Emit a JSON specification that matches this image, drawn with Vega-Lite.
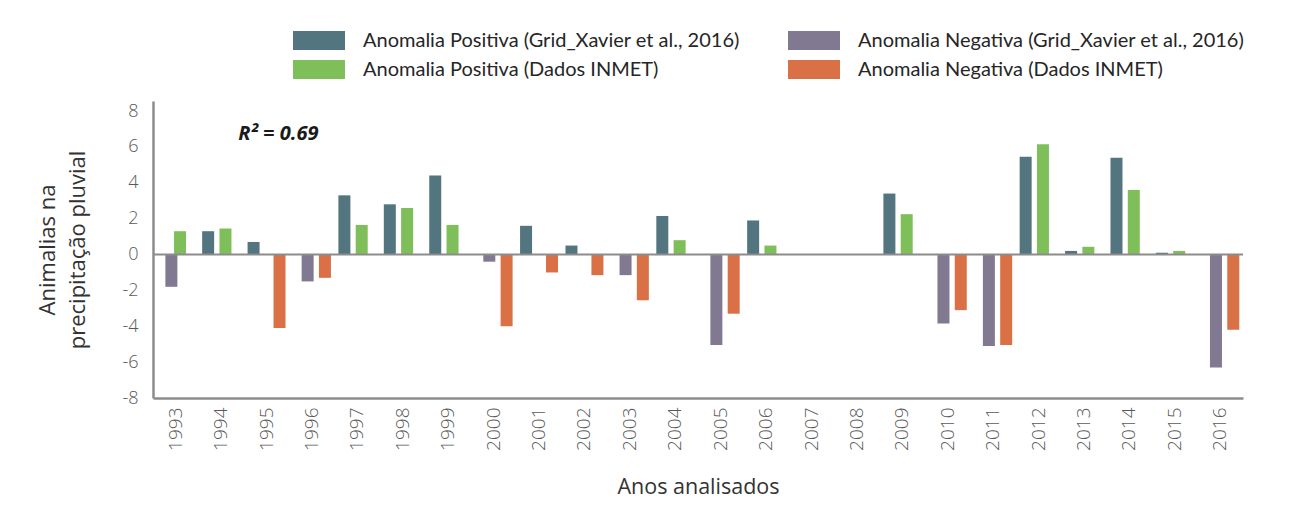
{
  "$schema": "https://vega.github.io/schema/vega-lite/v6.json",
  "autosize": "none",
  "width": 1090,
  "height": 297,
  "padding": {"left": 153, "top": 101, "right": 47, "bottom": 117},
  "background": "white",
  "config": {
    "view": {"stroke": null},
    "font": "Open Sans"
  },
  "data": {
    "values": [
      {"ano": "1993", "serie": "Anomalia Negativa (Grid_Xavier et al., 2016)", "valor": -1.8},
      {"ano": "1993", "serie": "Anomalia Positiva (Dados INMET)", "valor": 1.3},
      {"ano": "1994", "serie": "Anomalia Positiva (Grid_Xavier et al., 2016)", "valor": 1.3},
      {"ano": "1994", "serie": "Anomalia Positiva (Dados INMET)", "valor": 1.45},
      {"ano": "1995", "serie": "Anomalia Positiva (Grid_Xavier et al., 2016)", "valor": 0.7},
      {"ano": "1995", "serie": "Anomalia Negativa (Dados INMET)", "valor": -4.1},
      {"ano": "1996", "serie": "Anomalia Negativa (Grid_Xavier et al., 2016)", "valor": -1.5},
      {"ano": "1996", "serie": "Anomalia Negativa (Dados INMET)", "valor": -1.3},
      {"ano": "1997", "serie": "Anomalia Positiva (Grid_Xavier et al., 2016)", "valor": 3.3},
      {"ano": "1997", "serie": "Anomalia Positiva (Dados INMET)", "valor": 1.65},
      {"ano": "1998", "serie": "Anomalia Positiva (Grid_Xavier et al., 2016)", "valor": 2.8},
      {"ano": "1998", "serie": "Anomalia Positiva (Dados INMET)", "valor": 2.6},
      {"ano": "1999", "serie": "Anomalia Positiva (Grid_Xavier et al., 2016)", "valor": 4.4},
      {"ano": "1999", "serie": "Anomalia Positiva (Dados INMET)", "valor": 1.65},
      {"ano": "2000", "serie": "Anomalia Negativa (Grid_Xavier et al., 2016)", "valor": -0.4},
      {"ano": "2000", "serie": "Anomalia Negativa (Dados INMET)", "valor": -4.0},
      {"ano": "2001", "serie": "Anomalia Positiva (Grid_Xavier et al., 2016)", "valor": 1.6},
      {"ano": "2001", "serie": "Anomalia Negativa (Dados INMET)", "valor": -1.0},
      {"ano": "2002", "serie": "Anomalia Positiva (Grid_Xavier et al., 2016)", "valor": 0.5},
      {"ano": "2002", "serie": "Anomalia Negativa (Dados INMET)", "valor": -1.15},
      {"ano": "2003", "serie": "Anomalia Negativa (Grid_Xavier et al., 2016)", "valor": -1.15},
      {"ano": "2003", "serie": "Anomalia Negativa (Dados INMET)", "valor": -2.55},
      {"ano": "2004", "serie": "Anomalia Positiva (Grid_Xavier et al., 2016)", "valor": 2.15},
      {"ano": "2004", "serie": "Anomalia Positiva (Dados INMET)", "valor": 0.8},
      {"ano": "2005", "serie": "Anomalia Negativa (Grid_Xavier et al., 2016)", "valor": -5.05},
      {"ano": "2005", "serie": "Anomalia Negativa (Dados INMET)", "valor": -3.3},
      {"ano": "2006", "serie": "Anomalia Positiva (Grid_Xavier et al., 2016)", "valor": 1.9},
      {"ano": "2006", "serie": "Anomalia Positiva (Dados INMET)", "valor": 0.5},
      {"ano": "2009", "serie": "Anomalia Positiva (Grid_Xavier et al., 2016)", "valor": 3.4},
      {"ano": "2009", "serie": "Anomalia Positiva (Dados INMET)", "valor": 2.25},
      {"ano": "2010", "serie": "Anomalia Negativa (Grid_Xavier et al., 2016)", "valor": -3.85},
      {"ano": "2010", "serie": "Anomalia Negativa (Dados INMET)", "valor": -3.1},
      {"ano": "2011", "serie": "Anomalia Negativa (Grid_Xavier et al., 2016)", "valor": -5.1},
      {"ano": "2011", "serie": "Anomalia Negativa (Dados INMET)", "valor": -5.05},
      {"ano": "2012", "serie": "Anomalia Positiva (Grid_Xavier et al., 2016)", "valor": 5.45},
      {"ano": "2012", "serie": "Anomalia Positiva (Dados INMET)", "valor": 6.15},
      {"ano": "2013", "serie": "Anomalia Positiva (Grid_Xavier et al., 2016)", "valor": 0.2},
      {"ano": "2013", "serie": "Anomalia Positiva (Dados INMET)", "valor": 0.43},
      {"ano": "2014", "serie": "Anomalia Positiva (Grid_Xavier et al., 2016)", "valor": 5.4},
      {"ano": "2014", "serie": "Anomalia Positiva (Dados INMET)", "valor": 3.6},
      {"ano": "2015", "serie": "Anomalia Positiva (Grid_Xavier et al., 2016)", "valor": 0.1},
      {"ano": "2015", "serie": "Anomalia Positiva (Dados INMET)", "valor": 0.2},
      {"ano": "2016", "serie": "Anomalia Negativa (Grid_Xavier et al., 2016)", "valor": -6.3},
      {"ano": "2016", "serie": "Anomalia Negativa (Dados INMET)", "valor": -4.2}
    ]
  },
  "encoding": {
    "y": {
      "field": "valor", "type": "quantitative",
      "scale": {"domain": [-8, 8.56], "nice": false, "zero": false},
      "axis": {
        "tickCount": 9,
        "values": [-8, -6, -4, -2, 0, 2, 4, 6, 8],
        "labelExpr": "'' + datum.value",
        "labelOverlap": false,
        "labelSeparation": 0,
        "labelBound": false,
        "title": ["Animalias na", "precipitação pluvial"],
        "titleFont": "Open Sans", "titleFontSize": 22, "titleFontWeight": "normal", "titleColor": "#333333", "titleLineHeight": 30, "titlePadding": 32,
        "labelFontSize": 18, "labelColor": "#595959", "labelFontWeight": 300, "labelPadding": 15,
        "ticks": false, "grid": false, "domainColor": "#8c8c8c", "domainWidth": 2.5
      }
    }
  },
  "layer": [
    {
      "mark": {"type": "bar", "width": 12},
      "encoding": {
        "x": {
          "field": "ano", "type": "ordinal",
          "scale": {
            "domain": ["1993","1994","1995","1996","1997","1998","1999","2000","2001","2002","2003","2004","2005","2006","2007","2008","2009","2010","2011","2012","2013","2014","2015","2016"],
            "paddingInner": 0.238, "paddingOuter": 0.119
          },
          "axis": {
            "title": "Anos analisados",
            "titleFont": "Open Sans", "titleFontSize": 21.5, "titleFontWeight": "normal", "titleColor": "#333333", "titlePadding": 26,
            "labelAngle": -90, "labelFontSize": 19, "labelColor": "#595959", "labelFontWeight": 300, "labelPadding": 9,
            "ticks": false, "domainColor": "#8c8c8c", "domainWidth": 2.5
          }
        },
        "xOffset": {
          "field": "serie", "type": "nominal",
          "scale": {
            "domain": ["Anomalia Positiva (Grid_Xavier et al., 2016)", "Anomalia Negativa (Grid_Xavier et al., 2016)", "Anomalia Positiva (Dados INMET)", "Anomalia Negativa (Dados INMET)"],
            "paddingInner": 0, "paddingOuter": 0
          }
        },
        "color": {
          "field": "serie", "type": "nominal",
          "scale": {
            "domain": ["Anomalia Positiva (Grid_Xavier et al., 2016)", "Anomalia Positiva (Dados INMET)", "Anomalia Negativa (Grid_Xavier et al., 2016)", "Anomalia Negativa (Dados INMET)"],
            "range": ["#52757f", "#7fbf59", "#817991", "#d97046"]
          },
          "legend": {
            "title": null,
            "orient": "none", "legendX": 147, "legendY": -79.5,
            "columns": 2, "columnPadding": 48, "rowPadding": 0, "padding": 0,
            "symbolType": "M-1.368,-0.5L1.368,-0.5L1.368,0.5L-1.368,0.5Z", "symbolSize": 1444, "symbolStrokeWidth": 0, "symbolOpacity": 1,
            "labelFont": "Lato", "labelFontSize": 20, "labelColor": "#262626", "labelOffset": 25, "labelLimit": 600
          }
        }
      }
    },
    {
      "transform": [{"filter": "datum.ano == '1993' && datum.valor < 0"}],
      "mark": {"type": "rule", "color": "#8c8c8c", "strokeWidth": 2},
      "encoding": {"y": {"datum": 0}}
    },
    {
      "transform": [{"filter": "datum.ano == '1993' && datum.valor < 0"}],
      "mark": {"type": "text", "text": "R² = 0.69", "font": "Open Sans", "fontSize": 20, "fontWeight": "bold", "fontStyle": "italic", "color": "#1a1a1a", "align": "left", "baseline": "middle", "dx": 17},
      "encoding": {"x": {"datum": "1994", "type": "ordinal"}, "y": {"datum": 6.7}}
    }
  ]
}
